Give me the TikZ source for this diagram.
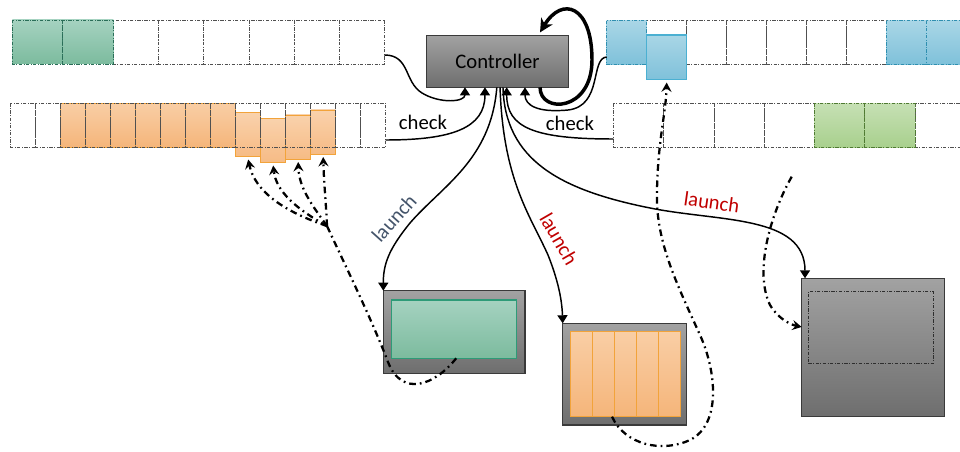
\documentclass[tikz,border=0pt]{standalone}
\usepackage{fontspec}
\setmainfont{Carlito}
\usetikzlibrary{arrows.meta}
\definecolor{gridc}{HTML}{505050}
\definecolor{grT}{HTML}{A5D2C0}
\definecolor{grB}{HTML}{7CBB9E}
\definecolor{grD}{HTML}{2A6E58}
\definecolor{grS}{HTML}{2E9B78}
\definecolor{orT}{HTML}{F9CEA5}
\definecolor{orB}{HTML}{F5B57A}
\definecolor{orD}{HTML}{F2A33A}
\definecolor{blT}{HTML}{A9D6E6}
\definecolor{blB}{HTML}{7FC1DA}
\definecolor{blD}{HTML}{2F8FB0}
\definecolor{blS}{HTML}{4BB0D2}
\definecolor{lgT}{HTML}{C6E0B4}
\definecolor{lgB}{HTML}{A8D08D}
\definecolor{lgD}{HTML}{4F7A32}
\definecolor{gyT}{HTML}{A2A2A2}
\definecolor{gyB}{HTML}{6E6E6E}
\definecolor{gyD}{HTML}{3A3A3A}
\definecolor{lblue}{HTML}{44546A}
\definecolor{lred}{HTML}{C00000}
\tikzset{
  dd/.style={dash pattern=on 2.5pt off 1.2pt on 0.5pt off 1.2pt},
  gridcell/.style={draw=gridc, line width=0.5pt, dd},
  greencell/.style={top color=grT, bottom color=grB, draw=grD, line width=0.7pt, dd},
  orangecell/.style={top color=orT, bottom color=orB, draw=orD, line width=0.7pt},
  bluecell/.style={top color=blT, bottom color=blB, draw=blD, line width=0.7pt, dd},
  blueshift/.style={top color=blT, bottom color=blB, draw=blS, line width=0.8pt},
  lgcell/.style={top color=lgT, bottom color=lgB, draw=lgD, line width=0.7pt, dd},
  graybox/.style={top color=gyT, bottom color=gyB, draw=gyD, line width=0.8pt, inner sep=0pt, outer sep=0pt},
  greeninner/.style={top color=grT, bottom color=grB, draw=grS, line width=0.8pt, inner sep=0pt, outer sep=0pt},
  orinner/.style={top color=orT, bottom color=orB, draw=orD, line width=0.7pt, inner sep=0pt, outer sep=0pt, minimum width=16.5pt, minimum height=63.75pt},
  lbl/.style={font=\fontsize{15.5}{18}\selectfont, inner sep=0pt},
  conn/.style={line width=1.1pt, -{Triangle[width=7.5pt,length=6pt]}},
  ddarrow/.style={line width=1.7pt, dash pattern=on 5pt off 3pt on 1.3pt off 3pt, -{Stealth[length=7pt,width=7.5pt,inset=2.5pt]}},
  ddline/.style={line width=1.7pt, dash pattern=on 5pt off 3pt on 1.3pt off 3pt},
}
\begin{document}
\begin{tikzpicture}[x=0.75pt,y=-0.75pt]
\useasboundingbox (0,0) rectangle (960,452);

% ---- strip 1 (top left)
\foreach \k in {0,...,5} \path[gridcell] ({113.3+45.2*\k},20) rectangle ++(45.2,44);
\path[greencell] (12.3,20) rectangle (62.8,64);
\path[greencell] (62.8,20) rectangle (113.3,64);
\coordinate (s1e) at (384.5,55);

% ---- strip 2 (middle left)
\foreach \k in {2,...,8} \path[orangecell] ({10.7+25*\k},103.3) rectangle ++(25,44);
\foreach \k/\t in {9/112.7,10/118.7,11/115,12/110} \path[orangecell, fill opacity=0.92] ({10.7+25*\k},\t) rectangle ++(25,44);
\foreach \k in {0,...,14} \path[gridcell] ({10.7+25*\k},103.3) rectangle ++(25,44);
\coordinate (s2e) at (385.7,140);
\coordinate (t1) at (248.2,159.5);
\coordinate (t2) at (273.2,165.5);
\coordinate (t3) at (298.2,162);
\coordinate (t4) at (323.2,157);
\coordinate (fan) at (327,226);

% ---- strip 3 (top right)
\foreach \k in {0,...,8} \path[gridcell] ({606.7+40*\k},20.7) rectangle ++(40,43.6);
\foreach \k in {0,7,8} \path[bluecell] ({606.7+40*\k},20.7) rectangle ++(40,43.6);
\path[blueshift] (646.7,35) rectangle (686.7,79.3);
\coordinate (s3w) at (606.7,57);
\coordinate (tb) at (666.7,82.5);

% ---- strip 4 (middle right)
\foreach \k in {0,...,6} \path[gridcell] ({613.3+50.3*\k},103.3) rectangle ++(50.3,44);
\foreach \k in {4,5} \path[lgcell] ({613.3+50.3*\k},103.3) rectangle ++(50.3,44);
\coordinate (s4w) at (613.3,139);

% ---- controller
\node[graybox, lbl, minimum width=106.2pt, minimum height=39.2pt] (ctrl) at (497.5,61.2) {Controller};

% ---- boxes
\node[graybox, minimum width=106.3pt, minimum height=62pt] (b1) at (454.15,332) {};
\node[greeninner, minimum width=93.75pt, minimum height=43.7pt] (g1) at (454.2,329.15) {};

\node[graybox, minimum width=93pt, minimum height=76.3pt] (b2) at (624.7,374.15) {};
\foreach \i/\x in {1/581,2/603,3/625,4/647,5/669}
  \node[orinner] (o\i) at (\x,374.2) {};

\node[graybox, minimum width=107pt, minimum height=103.8pt] (b3) at (873,347.5) {};
\node[draw=gyD!80!black, line width=0.5pt, dd, inner sep=0pt, minimum width=93.75pt, minimum height=53.7pt] (d3) at (870.8,327.5) {};
\coordinate (cs) at (791.7,176.7);

% ---- check connectors
\draw[conn] (s1e) .. controls (410,55) and (404,82) .. (422,93) .. controls (440,104) and (465,102) .. ([xshift=-24.4pt]ctrl.south);
\draw[conn] (s2e) .. controls (452,140) and (485,128) .. ([xshift=-9.4pt]ctrl.south);
\draw[conn] (s4w) .. controls (535,139) and (506.7,128) .. ([xshift=6.9pt]ctrl.south);
\draw[conn] (s3w) .. controls (590,58) and (603,106) .. (568,110) .. controls (537,113) and (525,105) .. ([xshift=20.6pt]ctrl.south);
\node[lbl] (chk1) at (423,122.7) {check};
\node[lbl] (chk2) at (570,123) {check};

% ---- self loop
\draw[line width=2.6pt, -{Stealth[length=10pt,width=10pt,inset=3pt]}] ([xshift=31.9pt]ctrl.south) .. controls (540,114) and (592,112) .. (592,60) .. controls (592,5) and (562,-4) .. ([xshift=31.9pt,yshift=2pt]ctrl.north);

% ---- launch connectors
\draw[conn] ([xshift=-0.5pt]ctrl.south) .. controls (491,160) and (442,186) .. (410,223) .. controls (388,250) and (383.3,265) .. (b1.north west);
\node[lbl, text=lblue, rotate=48] (la1) at (394,218) {launch};

\draw[conn] ([xshift=1.9pt]ctrl.south) .. controls (503,180) and (530,215) .. (548,255) .. controls (558,280) and (562,300) .. (b2.north west);
\node[lbl, text=lred, rotate=-60] (la2) at (559,239) {launch};

\draw[conn] ([xshift=4.1pt]ctrl.south) .. controls (505,160) and (560,190) .. (650,208) .. controls (720,222) and (805,215) .. ([xshift=2.5pt]b3.north west);
\node[lbl, text=lred, rotate=-8] (la3) at (711.7,202) {launch};

% ---- dash-dot feedback paths
\draw[ddline] ([xshift=1.5pt]g1.south) .. controls (435,385) and (402,398) .. (388,362) .. controls (372,320) and (345,265) .. (fan);
\draw[ddarrow] (fan) .. controls (285,212) and (255,192) .. (t1);
\draw[ddarrow] (fan) .. controls (298,210) and (276,192) .. (t2);
\draw[ddarrow] (fan) .. controls (312,205) and (299,188) .. (t3);
\draw[ddarrow] (fan) .. controls (326,202) and (324,185) .. (t4);

\draw[ddarrow] ([xshift=-9.75pt]o3.south) .. controls (625,445) and (662,453) .. (690,440) .. controls (722,424) and (716,370) .. (700,335) .. controls (676,282) and (655,240) .. (657,190) .. controls (658,140) and (666,112) .. (tb);

\draw[ddarrow] (cs) .. controls (770,215) and (754,272) .. (770,305) .. controls (779,320) and (792,325) .. ([yshift=15.4pt]b3.west);
\end{tikzpicture}
\end{document}
